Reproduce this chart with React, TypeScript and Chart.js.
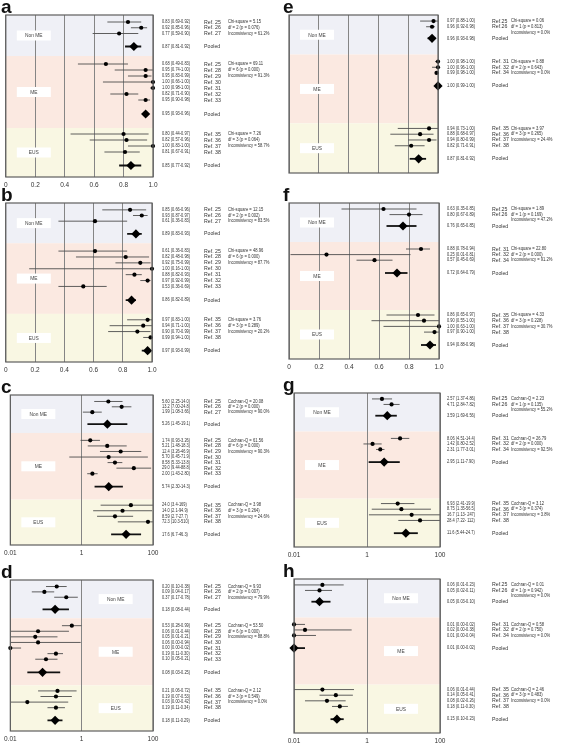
import React, { useEffect, useRef } from "react";
import { Chart, registerables } from "chart.js";

Chart.register(...registerables);

type Row = [number, number, number];

// ---------- categories / labels ----------
const GROUPS = ["Non ME", "ME", "EUS"];
const LEFT_REFS = [
  ["Ref. 25", "Ref. 26", "Ref. 27"],
  ["Ref. 25", "Ref. 28", "Ref. 29", "Ref. 30", "Ref. 31", "Ref. 32", "Ref. 33"],
  ["Ref. 35", "Ref. 36", "Ref. 37", "Ref. 38"],
];
const RIGHT_REFS = [
  ["Ref.25", "Ref.26"],
  ["Ref. 31", "Ref. 32", "Ref. 34"],
  ["Ref. 35", "Ref. 36", "Ref. 37", "Ref. 38"],
];
const LINEAR_TICKS = [0, 0.2, 0.4, 0.6, 0.8, 1.0];
const LINEAR_TICK_LABELS = ["0", "0.2", "0.4", "0.6", "0.8", "1.0"];
const LOG_TICKS = [0.01, 1, 100];
const LOG_TICK_LABELS = ["0.01", "1", "100"];

// ---------- series values: [estimate, lower, upper]; each group = studies then pooled ----------
const A_VALUES: Row[] = [
  [0.83, 0.69, 0.92], [0.92, 0.85, 0.96], [0.77, 0.59, 0.90], [0.87, 0.81, 0.92],
  [0.68, 0.49, 0.83], [0.95, 0.74, 1.00], [0.95, 0.83, 0.99], [1.00, 0.66, 1.00], [1.00, 0.98, 1.00], [0.82, 0.71, 0.90], [0.95, 0.90, 0.98], [0.95, 0.93, 0.96],
  [0.80, 0.44, 0.97], [0.82, 0.57, 0.96], [1.00, 0.83, 1.00], [0.81, 0.67, 0.91], [0.85, 0.77, 0.92],
];
const A_STATS = [
  "Chi-square = 5.15", "df = 2 (p = 0.076)", "Inconsistency = 61.2%",
  "Chi-square = 69.11", "df = 6 (p = 0.000)", "Inconsistency = 91.3%",
  "Chi-square = 7.26", "df = 3 (p = 0.064)", "Inconsistency = 58.7%",
];

const B_VALUES: Row[] = [
  [0.85, 0.66, 0.96], [0.93, 0.87, 0.97], [0.61, 0.36, 0.83], [0.89, 0.83, 0.93],
  [0.61, 0.36, 0.83], [0.82, 0.48, 0.98], [0.92, 0.75, 0.99], [1.00, 0.16, 1.00], [0.88, 0.82, 0.93], [0.97, 0.92, 0.99], [0.53, 0.36, 0.69], [0.86, 0.82, 0.89],
  [0.97, 0.83, 1.00], [0.94, 0.71, 1.00], [0.90, 0.70, 0.99], [0.99, 0.94, 1.00], [0.97, 0.93, 0.99],
];
const B_STATS = [
  "Chi-square = 12.15", "df = 2 (p = 0.002)", "Inconsistency = 83.5%",
  "Chi-square = 48.96", "df = 6 (p = 0.000)", "Inconsistency = 87.7%",
  "Chi-square = 3.76", "df = 3 (p = 0.289)", "Inconsistency = 20.2%",
];

const C_VALUES: Row[] = [
  [5.60, 2.25, 14.0], [13.2, 7.00, 24.8], [1.99, 1.08, 3.66], [5.26, 1.45, 19.1],
  [1.74, 0.93, 3.26], [5.21, 1.48, 18.3], [12.4, 3.26, 46.9], [5.70, 0.45, 71.9], [8.58, 5.33, 13.8], [29.0, 9.44, 88.8], [2.00, 1.43, 2.80], [5.74, 2.30, 14.3],
  [24.0, 3.4, 169], [14.0, 2.1, 94.9], [8.59, 2.7, 27.7], [72.3, 10.3, 510], [17.6, 6.7, 46.3],
];
const C_LABELS = [
  "5.60 (2.25-14.0)", "13.2 (7.00-24.8)", "1.99 (1.08-3.66)", "5.26 (1.45-19.1)",
  "1.74 (0.93-3.26)", "5.21 (1.48-18.3)", "12.4 (3.26-46.9)", "5.70 (0.45-71.9)", "8.58 (5.33-13.8)", "29.0 (9.44-88.8)", "2.00 (1.43-2.80)", "5.74 (2.30-14.3)",
  "24.0 (3.4-169)", "14.0 (2.1-94.9)", "8.59 (2.7-27.7)", "72.3 (10.3-510)", "17.6 (6.7-46.3)",
];
const C_STATS = [
  "Cochran-Q = 20.08", "df = 2 (p = 0.000)", "Inconsistency = 90.0%",
  "Cochran-Q = 61.56", "df = 6 (p = 0.000)", "Inconsistency = 90.3%",
  "Cochran-Q = 3.98", "df = 3 (p = 0.264)", "Inconsistency = 24.6%",
];

const D_VALUES: Row[] = [
  [0.20, 0.10, 0.38], [0.09, 0.04, 0.17], [0.37, 0.17, 0.78], [0.18, 0.08, 0.44],
  [0.53, 0.28, 0.99], [0.06, 0.01, 0.44], [0.05, 0.01, 0.21], [0.06, 0.00, 0.94], [0.00, 0.00, 0.02], [0.19, 0.11, 0.30], [0.10, 0.05, 0.21], [0.08, 0.03, 0.25],
  [0.21, 0.06, 0.72], [0.19, 0.07, 0.53], [0.03, 0.00, 0.42], [0.19, 0.11, 0.34], [0.18, 0.11, 0.29],
];
const D_STATS = [
  "Cochran-Q = 9.93", "df = 2 (p = 0.007)", "Inconsistency = 79.9%",
  "Cochran-Q = 53.50", "df = 6 (p = 0.000)", "Inconsistency = 88.8%",
  "Cochran-Q = 2.12", "df = 3 (p = 0.549)", "Inconsistency = 0.0%",
];

const E_VALUES: Row[] = [
  [0.97, 0.88, 1.00], [0.96, 0.92, 0.98], [0.96, 0.93, 0.98],
  [1.00, 0.98, 1.00], [1.00, 0.96, 1.00], [0.99, 0.98, 1.00], [1.00, 0.99, 1.00],
  [0.94, 0.73, 1.00], [0.88, 0.68, 0.97], [0.94, 0.80, 0.99], [0.82, 0.71, 0.91], [0.87, 0.81, 0.92],
];
const E_STATS = [
  "Chi-square = 0.06", "df = 1 (p = 0.813)", "Inconsistency = 0.0%",
  "Chi-square = 0.88", "df = 2 (p = 0.643)", "Inconsistency = 0.0%",
  "Chi-square = 3.97", "df = 3 (p = 0.265)", "Inconsistency = 24.4%",
];

const F_VALUES: Row[] = [
  [0.63, 0.35, 0.85], [0.80, 0.67, 0.89], [0.76, 0.65, 0.85],
  [0.88, 0.78, 0.94], [0.25, 0.01, 0.81], [0.57, 0.45, 0.69], [0.72, 0.64, 0.79],
  [0.86, 0.65, 0.97], [0.90, 0.55, 1.00], [1.00, 0.63, 1.00], [0.97, 0.90, 1.00], [0.94, 0.88, 0.98],
];
const F_STATS = [
  "Chi-square = 1.89", "df = 1 (p = 0.169)", "Inconsistency = 47.2%",
  "Chi-square = 22.80", "df = 2 (p = 0.000)", "Inconsistency = 91.2%",
  "Chi-square = 4.33", "df = 3 (p = 0.228)", "Inconsistency = 30.7%",
];

const G_VALUES: Row[] = [
  [2.57, 1.37, 4.86], [4.71, 2.84, 7.82], [3.59, 1.69, 6.56],
  [8.06, 4.51, 14.4], [1.42, 0.80, 2.52], [2.31, 1.77, 3.01], [2.95, 1.11, 7.90],
  [6.93, 2.41, 19.9], [8.75, 1.35, 56.5], [16.7, 1.13, 247], [28.4, 7.22, 112], [11.6, 5.44, 24.7],
];
const G_LABELS = [
  "2.57 (1.37-4.86)", "4.71 (2.84-7.82)", "3.59 (1.69-6.56)",
  "8.06 (4.51-14.4)", "1.42 (0.80-2.52)", "2.31 (1.77-3.01)", "2.95 (1.11-7.90)",
  "6.93 (2.41-19.9)", "8.75 (1.35-56.5)", "16.7 (1.13- 247)", "28.4 (7.22- 112)", "11.6 (5.44-24.7)",
];
const G_STATS = [
  "Cochran-Q = 2.23", "df = 1 (p = 0.135)", "Inconsistency = 55.2%",
  "Cochran-Q = 26.79", "df = 2 (p = 0.000)", "Inconsistency = 92.5%",
  "Cochran-Q = 3.12", "df = 3 (p = 0.374)", "Inconsistency = 3.8%",
];

const H_VALUES: Row[] = [
  [0.06, 0.01, 0.23], [0.05, 0.02, 0.11], [0.05, 0.03, 0.10],
  [0.01, 0.00, 0.02], [0.02, 0.00, 0.38], [0.01, 0.00, 0.04], [0.01, 0.00, 0.02],
  [0.06, 0.01, 0.44], [0.14, 0.05, 0.41], [0.08, 0.02, 0.26], [0.18, 0.11, 0.30], [0.15, 0.10, 0.23],
];
const H_STATS = [
  "Cochran-Q = 0.01", "df = 1 (p = 0.942)", "Inconsistency = 0.0%",
  "Cochran-Q = 0.58", "df = 2 (p = 0.750)", "Inconsistency = 0.0%",
  "Cochran-Q = 2.46", "df = 3 (p = 0.483)", "Inconsistency = 0.0%",
];

// ---------- layout (not data) ----------
const FONT = "'Liberation Sans', Arial, sans-serif";
const BAND_COLORS = ["#eff0f6", "#fbe9e1", "#f9f7e3"];
const LEFT_LAYOUT = {
  total: 162, refs: LEFT_REFS, valueX: 162, refX: 204, statX: 228,
  groups: [
    { first: 7, step: 5.75, pooled: 31.5, end: 41 },
    { first: 49, step: 6, pooled: 99, end: 113 },
    { first: 119, step: 6, pooled: 150.5, end: 162 },
  ],
};
const RIGHT_LAYOUT = {
  total: 156, refs: RIGHT_REFS, valueX: 165, refX: 210, statX: 229,
  groups: [
    { first: 6, step: 5.6, pooled: 23, end: 39 },
    { first: 46, step: 5.6, pooled: 70, end: 107 },
    { first: 112, step: 5.7, pooled: 142, end: 156 },
  ],
};

type PanelDef = {
  letter: string; values: Row[]; labels?: string[]; stats: string[]; log: boolean;
  col: number; plotTop: number; plotBottom: number; plotLeft: number; plotRight: number;
  boxSide: "left" | "right"; ticks: boolean;
};

const PANELS: PanelDef[] = [
  { letter: "a", values: A_VALUES, stats: A_STATS, log: false, col: 0, plotTop: 15, plotBottom: 177, plotLeft: 3, plotRight: 153, boxSide: "left", ticks: true },
  { letter: "b", values: B_VALUES, stats: B_STATS, log: false, col: 0, plotTop: 203, plotBottom: 362, plotLeft: 3, plotRight: 152, boxSide: "left", ticks: true },
  { letter: "c", values: C_VALUES, labels: C_LABELS, stats: C_STATS, log: true, col: 0, plotTop: 395, plotBottom: 545, plotLeft: 7, plotRight: 153, boxSide: "left", ticks: true },
  { letter: "d", values: D_VALUES, stats: D_STATS, log: true, col: 0, plotTop: 580, plotBottom: 731, plotLeft: 7, plotRight: 153, boxSide: "right", ticks: true },
  { letter: "e", values: E_VALUES, stats: E_STATS, log: false, col: 1, plotTop: 15, plotBottom: 173, plotLeft: 7, plotRight: 156, boxSide: "left", ticks: false },
  { letter: "f", values: F_VALUES, stats: F_STATS, log: false, col: 1, plotTop: 203, plotBottom: 359, plotLeft: 7, plotRight: 157, boxSide: "left", ticks: true },
  { letter: "g", values: G_VALUES, labels: G_LABELS, stats: G_STATS, log: true, col: 1, plotTop: 393, plotBottom: 547, plotLeft: 12, plotRight: 158, boxSide: "left", ticks: true },
  { letter: "h", values: H_VALUES, stats: H_STATS, log: true, col: 1, plotTop: 579, plotBottom: 733, plotLeft: 12, plotRight: 158, boxSide: "right", ticks: true },
];

const TOP_PAD = 15;
const AXIS_H = 13;

function layoutOf(def: PanelDef) {
  return def.col === 0 ? LEFT_LAYOUT : RIGHT_LAYOUT;
}

// structure rows: for each group, study y positions + pooled y position, with data index
function buildRows(def: PanelDef) {
  const lay = layoutOf(def);
  const rows: { idx: number; y: number; pooled: boolean; ref: string; group: number }[] = [];
  let idx = 0;
  lay.groups.forEach((g, gi) => {
    lay.refs[gi].forEach((ref, i) => {
      rows.push({ idx: idx++, y: g.first + i * g.step, pooled: false, ref, group: gi });
    });
    rows.push({ idx: idx++, y: g.pooled, pooled: true, ref: "Pooled", group: gi });
  });
  return rows;
}

function fmt(r: Row) {
  return `${r[0].toFixed(2)} (${r[1].toFixed(2)}-${r[2].toFixed(2)})`;
}

function drawText(ctx: CanvasRenderingContext2D, s: string, x: number, y: number, size: number, sx = 1, align: CanvasTextAlign = "left", weight = "normal", color = "#333") {
  ctx.save();
  ctx.translate(x, y);
  ctx.scale(sx, 1);
  ctx.font = `${weight} ${size}px ${FONT}`;
  ctx.fillStyle = color;
  ctx.textAlign = align;
  ctx.textBaseline = "middle";
  ctx.fillText(s, 0, 0);
  ctx.restore();
}

function forestPlugin(def: PanelDef) {
  const lay = layoutOf(def);
  const rows = buildRows(def);
  const labels = def.labels ?? def.values.map(fmt);
  return {
    id: "forest" + def.letter,
    beforeDraw(chart: any) {
      const { ctx, chartArea: a } = chart;
      const y = chart.scales.y;
      let start = 0;
      lay.groups.forEach((g, i) => {
        const y0 = y.getPixelForValue(start);
        const y1 = y.getPixelForValue(g.end);
        ctx.fillStyle = BAND_COLORS[i];
        ctx.fillRect(a.left, y0, a.right - a.left, y1 - y0);
        start = g.end;
      });
    },
    beforeDatasetsDraw(chart: any) {
      const { ctx, chartArea: a } = chart;
      const y = chart.scales.y;
      const x = chart.scales.x;
      let start = 0;
      lay.groups.forEach((g, i) => {
        const yc = (y.getPixelForValue(start) + y.getPixelForValue(g.end)) / 2;
        const bx = def.boxSide === "left" ? a.left + 11 : x.getPixelForValue(1) + 17;
        const bw = 34;
        const bh = 10;
        ctx.fillStyle = "#ffffff";
        ctx.fillRect(bx, yc - bh / 2, bw, bh);
        drawText(ctx, GROUPS[i], bx + bw / 2, yc + 0.3, 5.4, 0.9, "center", "normal", "#444");
        start = g.end;
      });
    },
    afterDatasetsDraw(chart: any) {
      const { ctx, chartArea: a } = chart;
      const y = chart.scales.y;
      // border
      ctx.save();
      ctx.strokeStyle = "#5e5e5e";
      ctx.lineWidth = 1.2;
      ctx.strokeRect(a.left, a.top, a.right - a.left, a.bottom - a.top);
      ctx.restore();
      // row texts
      rows.forEach((r) => {
        const py = y.getPixelForValue(r.y);
        drawText(ctx, labels[r.idx], lay.valueX, py, 4.6, 0.86);
        drawText(ctx, r.ref, lay.refX, py, 5.5, 0.95);
      });
      // stats
      lay.groups.forEach((g, gi) => {
        for (let k = 0; k < 3; k++) {
          const py = y.getPixelForValue(g.first + k * g.step);
          drawText(ctx, def.stats[gi * 3 + k], lay.statX, py, 4.6, 0.9);
        }
      });
      // panel letter
      ctx.save();
      ctx.font = `bold 19px ${FONT}`;
      ctx.fillStyle = "#111";
      ctx.textAlign = "left";
      ctx.textBaseline = "alphabetic";
      ctx.fillText(def.letter, 1, 12.5);
      ctx.restore();
    },
  };
}

function buildConfig(def: PanelDef, width: number): any {
  const lay = layoutOf(def);
  const rows = buildRows(def);
  const minX = def.log ? 0.01 : 0;
  const clampX = (v: number) => (def.log ? Math.max(v, minX) : v);
  const datasets: any[] = [];
  rows.forEach((r) => {
    const v = def.values[r.idx];
    datasets.push({
      type: "line",
      data: [{ x: clampX(v[1]), y: r.y }, { x: clampX(v[2]), y: r.y }],
      borderColor: r.pooled ? "#111111" : "#4d4d4d",
      borderWidth: r.pooled ? 1.8 : 0.9,
      pointRadius: 0,
      showLine: true,
      fill: false,
      order: 3,
    });
  });
  datasets.push({
    type: "scatter",
    data: rows.filter((r) => !r.pooled).map((r) => ({ x: clampX(def.values[r.idx][0]), y: r.y })),
    pointRadius: 2.1,
    pointBackgroundColor: "#000",
    pointBorderWidth: 0,
    clip: false,
    order: 1,
  });
  datasets.push({
    type: "scatter",
    data: rows.filter((r) => r.pooled).map((r) => ({ x: clampX(def.values[r.idx][0]), y: r.y })),
    pointStyle: "rectRot",
    pointRadius: 4.6,
    pointBackgroundColor: "#000",
    pointBorderWidth: 0,
    clip: false,
    order: 1,
  });
  const tickVals = def.log ? LOG_TICKS : LINEAR_TICKS;
  const tickLabels = def.log ? LOG_TICK_LABELS : LINEAR_TICK_LABELS;
  return {
    type: "scatter",
    data: { datasets },
    plugins: [forestPlugin(def)],
    options: {
      animation: false,
      responsive: false,
      events: [],
      layout: { padding: { top: TOP_PAD, left: def.plotLeft, right: width - def.plotRight, bottom: 0 } },
      plugins: { legend: { display: false }, tooltip: { enabled: false } },
      scales: {
        x: {
          type: def.log ? "logarithmic" : "linear",
          min: minX,
          max: def.log ? 100 : 1,
          position: "bottom",
          grid: { color: "#858585", lineWidth: 1, drawTicks: false },
          border: { display: false },
          ticks: {
            display: def.ticks,
            autoSkip: false,
            maxRotation: 0,
            padding: 4,
            color: "#333",
            font: { size: 6.5, family: FONT },
            callback: (_v: any, i: number) => tickLabels[i],
          },
          afterBuildTicks: (s: any) => {
            s.ticks = tickVals.map((v) => ({ value: v }));
          },
          afterFit: (s: any) => {
            s.height = AXIS_H;
          },
        },
        y: { type: "linear", min: 0, max: lay.total, reverse: true, display: false },
      },
    },
  };
}

function Panel({ def }: { def: PanelDef }) {
  const ref = useRef<HTMLCanvasElement>(null);
  const width = def.col === 0 ? 282 : 285;
  const height = TOP_PAD + (def.plotBottom - def.plotTop) + AXIS_H;
  useEffect(() => {
    if (!ref.current) return;
    const chart = new Chart(ref.current, buildConfig(def, width));
    return () => chart.destroy();
  }, [def, width]);
  return (
    <canvas
      ref={ref}
      width={width}
      height={height}
      style={{ position: "absolute", left: def.col === 0 ? 0 : 282, top: def.plotTop - TOP_PAD, width, height }}
    />
  );
}

export default function App() {
  return (
    <div style={{ position: "absolute", left: 0, top: 0, width: 567, height: 744, background: "#fff", overflow: "hidden" }}>
      {PANELS.map((p) => (
        <Panel key={p.letter} def={p} />
      ))}
    </div>
  );
}
